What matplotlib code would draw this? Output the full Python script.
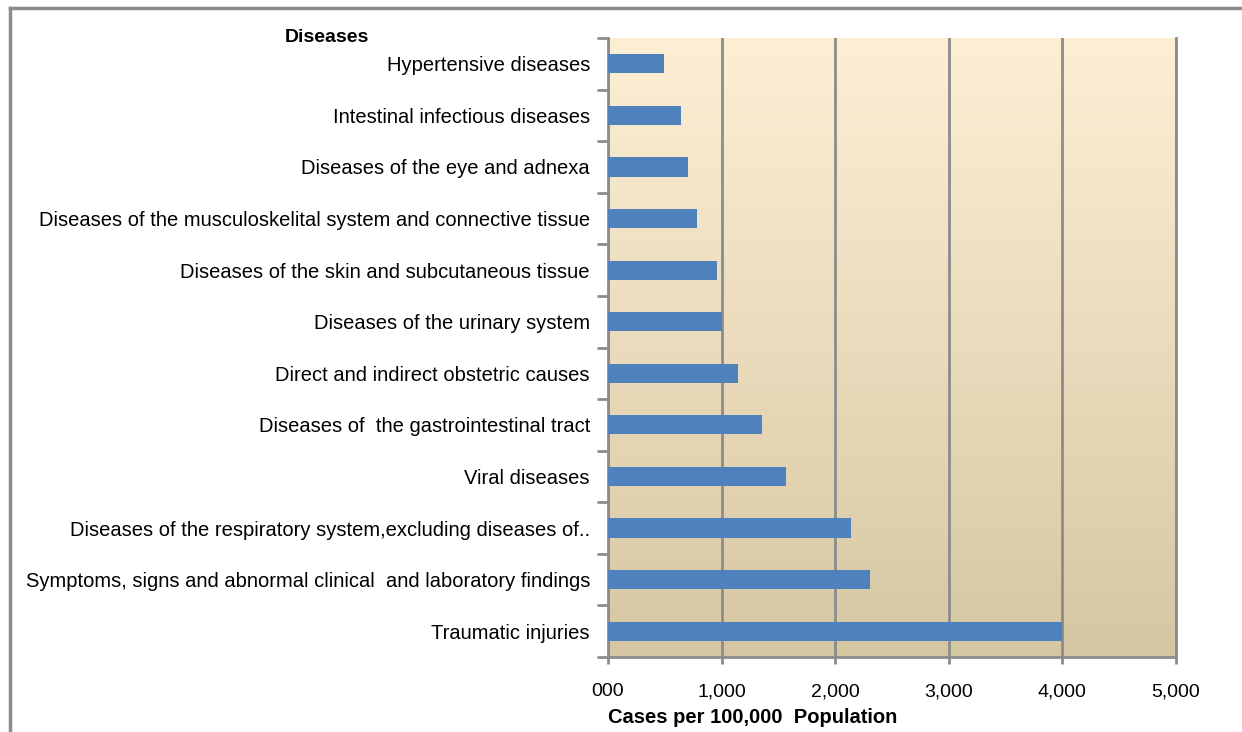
import numpy as np
import matplotlib.pyplot as plt
from matplotlib.lines import Line2D

diseases = [
    "Hypertensive diseases",
    "Intestinal infectious diseases",
    "Diseases of the eye and adnexa",
    "Diseases of the musculoskelital system and connective tissue",
    "Diseases of the skin and subcutaneous tissue",
    "Diseases of the urinary system",
    "Direct and indirect obstetric causes",
    "Diseases of  the gastrointestinal tract",
    "Viral diseases",
    "Diseases of the respiratory system,excluding diseases of..",
    "Symptoms, signs and abnormal clinical  and laboratory findings",
    "Traumatic injuries",
]
cases = [490, 645, 700, 785, 960, 1000, 1140, 1360, 1570, 2140, 2310, 4000]
xticks = [0, 1000, 2000, 3000, 4000, 5000]
xticklabels = ["000", "1,000", "2,000", "3,000", "4,000", "5,000"]

plt.rcParams['font.family'] = ['Liberation Sans', 'DejaVu Sans']

W, H = 1242, 732
fig = plt.figure(figsize=(W / 100, H / 100), dpi=100)
ax = fig.add_axes([608 / W, 1 - 657 / H, (1176 - 608) / W, (657 - 38) / H])

# gradient background
grad = np.linspace(0, 1, 256)[:, None]
top = np.array([253, 239, 212]) / 255
bot = np.array([214, 199, 163]) / 255
img = top + grad[:, :, None] * (bot - top)
ax.imshow(img, extent=[0, 1, 0, 1], transform=ax.transAxes, aspect='auto', zorder=0)

y = np.arange(len(diseases))
ax.barh(y, cases, height=0.37, color='#4F81BD', zorder=3)
ax.set_ylim(len(diseases) - 0.5, -0.5)
ax.set_xlim(0, 5000)

ax.set_xticks(xticks)
ax.set_xticklabels(xticklabels, fontsize=14)
ax.set_yticks(y)
ax.set_yticklabels(diseases, fontsize=14.5)
ax.tick_params(axis='y', length=0, pad=13)
ax.set_yticks(np.arange(len(diseases) + 1) - 0.5, minor=True)
ax.tick_params(axis='y', which='minor', length=8, width=2, color='#8c8c8c')
ax.tick_params(axis='x', length=5, width=2, color='#8c8c8c', pad=14)

ax.grid(axis='x', color='#8c8c8c', linewidth=2, zorder=1)
ax.set_axisbelow(True)
ax.spines['top'].set_visible(False)
for side in ['left', 'bottom', 'right']:
    ax.spines[side].set_color('#8c8c8c')
    ax.spines[side].set_linewidth(2)

ax.set_xlabel("Cases per 100,000  Population", fontsize=14.5, fontweight='bold')
ax.xaxis.set_label_coords(0, -0.083)
ax.xaxis.label.set_horizontalalignment('left')
ax.xaxis.label.set_verticalalignment('top')

fig.text(285 / W, 1 - 37 / H, "Diseases", fontsize=14, fontweight='bold', va='center', ha='left')

# outer frame, cut at the right and bottom
fig.add_artist(Line2D([10 / W, 10 / W], [0, 1 - 8 / H], color='#8c8c8c', linewidth=2.5))
fig.add_artist(Line2D([10 / W, 1], [1 - 8 / H, 1 - 8 / H], color='#8c8c8c', linewidth=2.5))

fig.savefig("out.png", dpi=100)
